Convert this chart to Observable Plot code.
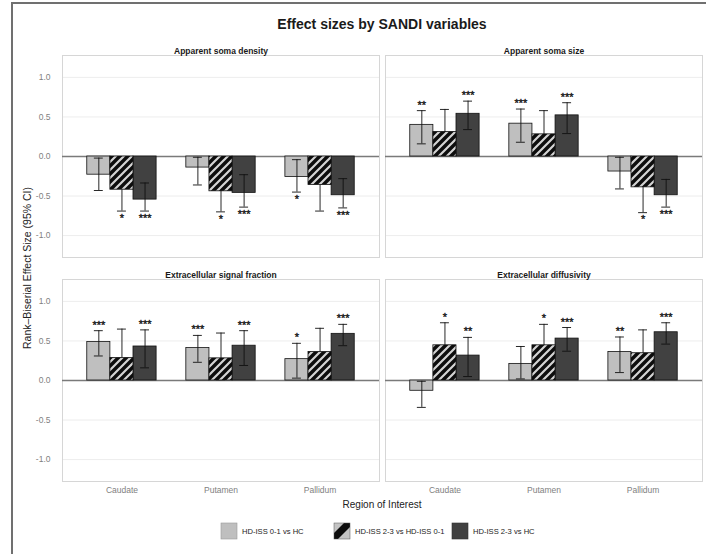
<!DOCTYPE html>
<html><head><meta charset="utf-8">
<script src="https://cdn.jsdelivr.net/npm/d3@7"></script>
<script src="https://cdn.jsdelivr.net/npm/@observablehq/plot@0.6"></script>
<style>
body{margin:0;background:#fff;}
#wrap{position:relative;width:706px;height:554px;overflow:hidden;background:#fff;}
#frame{position:absolute;left:11px;top:2px;width:720px;height:600px;border-left:2px solid #707070;border-top:2px solid #707070;pointer-events:none;}
</style></head><body><div id="wrap"><div id="frame"></div></div>
<script>
const variables = ["Apparent soma density", "Apparent soma size", "Extracellular signal fraction", "Extracellular diffusivity"];
const regions = ["Caudate", "Putamen", "Pallidum"];
const comparisons = ["HD-ISS 0-1 vs HC", "HD-ISS 2-3 vs HD-ISS 0-1", "HD-ISS 2-3 vs HC"];
const comparisonFill = ["#bfbfbf", "url(#hatch)", "#414141"];

// values ordered Caudate(3 comparisons), Putamen(3), Pallidum(3)
const densityEst = [-0.23, -0.42, -0.545, -0.14, -0.44, -0.46, -0.26, -0.36, -0.49];
const densityLo  = [-0.43, -0.69, -0.69, -0.36, -0.70, -0.64, -0.45, -0.69, -0.65];
const densityHi  = [-0.02, -0.13, -0.335, -0.01, -0.15, -0.23, -0.04, -0.03, -0.28];
const densitySig = ["", "*", "***", "", "*", "***", "*", "", "***"];

const sizeEst = [0.40, 0.31, 0.54, 0.415, 0.28, 0.52, -0.19, -0.39, -0.49];
const sizeLo  = [0.16, 0.02, 0.34, 0.18, 0.01, 0.29, -0.41, -0.71, -0.64];
const sizeHi  = [0.58, 0.595, 0.70, 0.60, 0.58, 0.68, -0.01, -0.08, -0.29];
const sizeSig = ["**", "", "***", "***", "", "***", "", "*", "***"];

const fractionEst = [0.486, 0.285, 0.43, 0.41, 0.28, 0.44, 0.27, 0.36, 0.59];
const fractionLo  = [0.31, 0.02, 0.16, 0.23, 0.01, 0.19, 0.03, 0.05, 0.44];
const fractionHi  = [0.63, 0.65, 0.64, 0.57, 0.60, 0.63, 0.47, 0.66, 0.71];
const fractionSig = ["***", "", "***", "***", "", "***", "*", "", "***"];

const diffusivityEst = [-0.13, 0.445, 0.315, 0.21, 0.445, 0.53, 0.36, 0.345, 0.61];
const diffusivityLo  = [-0.34, 0.12, 0.05, 0.02, 0.15, 0.37, 0.10, 0.03, 0.46];
const diffusivityHi  = [-0.01, 0.73, 0.545, 0.43, 0.71, 0.67, 0.55, 0.64, 0.73];
const diffusivitySig = ["", "*", "**", "", "*", "***", "**", "", "***"];

const yTicks = [-1, -0.5, 0, 0.5, 1];

const series = [
  [densityEst, densityLo, densityHi, densitySig],
  [sizeEst, sizeLo, sizeHi, sizeSig],
  [fractionEst, fractionLo, fractionHi, fractionSig],
  [diffusivityEst, diffusivityLo, diffusivityHi, diffusivitySig]
];

const dodge = 0.7 / 3;
const rows = [];
series.forEach(([est, lo, hi, sig], v) => {
  regions.forEach((reg, r) => {
    comparisons.forEach((cmp, c) => {
      const i = r * 3 + c;
      rows.push({v, col: v % 2, row: Math.floor(v / 2), region: reg, r, comparison: cmp, c,
        xc: r + 1 + (c - 1) * dodge, est: est[i], lo: lo[i], hi: hi[i], sig: sig[i], fill: comparisonFill[c]});
    });
  });
});
const panels = variables.map((name, v) => ({name, col: v % 2, row: Math.floor(v / 2)}));

const bw = dodge;
const cap = 0.09;
const fx = "col", fy = "row";

const chart = Plot.plot({
  width: 706, height: 554,
  marginLeft: 62, marginRight: 4, marginTop: 55, marginBottom: 72,
  style: {fontFamily: "'Liberation Sans', Arial, sans-serif", background: "white", overflow: "visible"},
  x: {domain: [0.4, 3.6], axis: null},
  y: {domain: [-1.277, 1.277], axis: null},
  fx: {domain: [0, 1], paddingInner: 0.0186, paddingOuter: 0, axis: null},
  fy: {domain: [0, 1], paddingInner: 0.098, paddingOuter: 0, axis: null},
  color: {type: "identity"},
  marks: [
    Plot.ruleY(yTicks.filter(d => d !== 0), {stroke: "#ebebeb", strokeWidth: 0.9}),
    Plot.frame({stroke: "#d6d6d6", strokeWidth: 1}),
    Plot.ruleY([0], {stroke: "#7a7a7a", strokeWidth: 1.4}),
    Plot.rect(rows.filter(d => d.c !== 1), {fx, fy, x1: d => d.xc - bw / 2, x2: d => d.xc + bw / 2, y1: () => 0, y2: "est", fill: "fill", stroke: "#111", strokeWidth: 0.8}),
    Plot.ruleX(rows, {fx, fy, x: "xc", y1: "lo", y2: "hi", stroke: "#111", strokeWidth: 0.9}),
    Plot.ruleY(rows, {fx, fy, y: "lo", x1: d => d.xc - cap / 2, x2: d => d.xc + cap / 2, stroke: "#111", strokeWidth: 0.9}),
    Plot.ruleY(rows, {fx, fy, y: "hi", x1: d => d.xc - cap / 2, x2: d => d.xc + cap / 2, stroke: "#111", strokeWidth: 0.9}),
    Plot.rect(rows.filter(d => d.c === 1), {fx, fy, x1: d => d.xc - bw / 2, x2: d => d.xc + bw / 2, y1: () => 0, y2: "est", fill: "fill", stroke: "#111", strokeWidth: 0.8}),
    Plot.text(rows.filter(d => d.sig && d.est > 0), {fx, fy, x: "xc", y: "hi", text: "sig", lineAnchor: "bottom", dy: -2, fontSize: 11, fill: "#111", stroke: "#111", strokeWidth: 0.35}),
    Plot.text(rows.filter(d => d.sig && d.est < 0), {fx, fy, x: "xc", y: "lo", text: "sig", lineAnchor: "top", dy: 3, fontSize: 11, fill: "#111", stroke: "#111", strokeWidth: 0.35}),
    Plot.text(panels, {fx, fy, text: "name", frameAnchor: "top", dy: -8, fontWeight: "bold", fontSize: 8.5, fill: "#1a1a1a"}),
    Plot.axisY({ticks: yTicks, tickFormat: d => d.toFixed(1), tickSize: 0, tickPadding: 12, fontSize: 8.5, color: "#7f7f7f", label: null, facetAnchor: "left"}),
    Plot.axisX({ticks: [1, 2, 3], tickFormat: i => regions[i - 1], tickSize: 0, tickPadding: 5, fontSize: 8.5, color: "#7f7f7f", label: null, facetAnchor: "bottom"})
  ]
});

const wrap = document.getElementById("wrap");
wrap.insertBefore(chart, wrap.firstChild);
const svg = d3.select(chart);
svg.insert("defs", ":first-child").html(`
  <pattern id="hatch" patternUnits="userSpaceOnUse" width="8" height="8">
    <rect width="8" height="8" fill="#0d0d0d"/>
    <path d="M-2,2 L2,-2 M0,8 L8,0 M6,10 L10,6" stroke="#d4d4d4" stroke-width="2.2"/>
  </pattern>`);

const font = "'Liberation Sans', Arial, sans-serif";
svg.append("text").attr("x", 382).attr("y", 25).attr("text-anchor", "middle").attr("dominant-baseline", "middle")
  .attr("font-family", font).attr("font-size", 14).attr("font-weight", "bold").attr("fill", "#1a1a1a")
  .text("Effect sizes by SANDI variables");
svg.append("text").attr("transform", "translate(28,268) rotate(-90)").attr("text-anchor", "middle").attr("dominant-baseline", "middle")
  .attr("font-family", font).attr("font-size", 10.5).attr("fill", "#222").text("Rank\u2013Biserial Effect Size (95% CI)");
svg.append("text").attr("x", 382).attr("y", 505).attr("text-anchor", "middle").attr("dominant-baseline", "middle")
  .attr("font-family", font).attr("font-size", 10).attr("fill", "#222").text("Region of Interest");

// legend
const legendX = [221, 334, 452];
const lg = svg.append("g").attr("font-family", font).attr("font-size", 7.6).attr("fill", "#222").attr("text-anchor", "start");
comparisons.forEach((name, c) => {
  const x = legendX[c];
  if (c === 1) {
    lg.append("rect").attr("x", x).attr("y", 523).attr("width", 16).attr("height", 16).attr("fill", "#c4c4c4");
    lg.append("polygon").attr("points", `${x},539 ${x},533 ${x + 10},523 ${x + 16},523 ${x + 16},527 ${x + 4},539`).attr("fill", "#0d0d0d");
    lg.append("rect").attr("x", x).attr("y", 523).attr("width", 16).attr("height", 16).attr("fill", "none").attr("stroke", "#555").attr("stroke-width", 0.5);
  } else {
    lg.append("rect").attr("x", x).attr("y", 523).attr("width", 16).attr("height", 16).attr("fill", comparisonFill[c]).attr("stroke", c === 0 ? "#9a9a9a" : "#333").attr("stroke-width", 0.6);
  }
  lg.append("text").attr("x", x + 21).attr("y", 531.5).attr("dominant-baseline", "middle").attr("text-anchor", "start").text(name);
});
</script>
</body></html>
